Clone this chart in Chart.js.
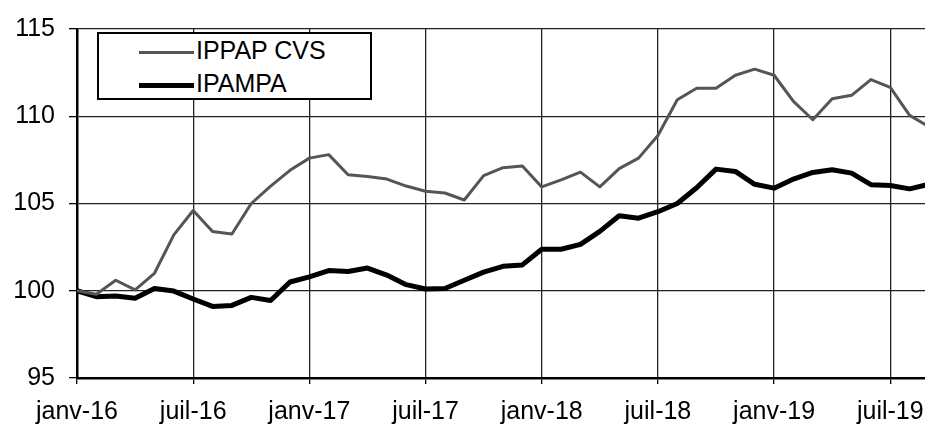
<!DOCTYPE html>
<html lang="fr">
<head>
<meta charset="utf-8">
<title>IPPAP CVS et IPAMPA</title>
<script src="https://cdn.jsdelivr.net/npm/chart.js@4/dist/chart.umd.min.js"></script>
<style>
    html, body { margin: 0; padding: 0; background: #fff; overflow: hidden; }
    #wrap { position: relative; width: 930px; height: 426px; }
    #legend {
        position: absolute; left: 97px; top: 32px; width: 271px; height: 64px;
        border: 2px solid #000; background: #fff;
        font-family: "Liberation Sans", Arial, sans-serif; font-size: 25px; color: #000;
    }
    #legend .row { position: absolute; left: 40px; height: 30px; line-height: 30px; white-space: nowrap; }
    #legend .swatch { display: inline-block; width: 55px; vertical-align: middle; margin-right: 2px; }
</style>
</head>
<body>
<div id="wrap">
    <canvas id="chart"></canvas>
    <div id="legend"></div>
</div>
<script>
const MONTHS = ['janv', 'févr', 'mars', 'avr', 'mai', 'juin', 'juil', 'août', 'sept', 'oct', 'nov', 'déc'];
const labels = [];
for (let y = 16; y <= 19; y++) {
    MONTHS.forEach(m => labels.push(`${m}-${y}`));
}
labels.length = 45; // janv-16 .. sept-19

const ippapCvs = [
    100.0, 99.8, 100.6, 100.05, 101.0, 103.2, 104.6, 103.4, 103.25, 105.0, 106.0, 106.9,
    107.6, 107.8, 106.65, 106.55, 106.4, 106.0, 105.7, 105.6, 105.2, 106.6, 107.05, 107.15,
    105.95, 106.35, 106.8, 105.95, 107.0, 107.6, 108.9, 110.95, 111.6, 111.6, 112.35, 112.7,
    112.35, 110.85, 109.8, 111.0, 111.2, 112.1, 111.65, 110.05, 109.4
];
const ipampa = [
    100.0, 99.66, 99.7, 99.57, 100.13, 99.98, 99.53, 99.1, 99.16, 99.62, 99.44, 100.5,
    100.8, 101.16, 101.1, 101.3, 100.9, 100.35, 100.1, 100.13, 100.6, 101.07, 101.4, 101.48,
    102.38, 102.38, 102.66, 103.4, 104.3, 104.16, 104.53, 105.0, 105.9, 106.97, 106.84, 106.1,
    105.88, 106.4, 106.78, 106.93, 106.74, 106.08, 106.03, 105.84, 106.1
];
const yMin = 95, yMax = 115, yStep = 5;

const FONT = { family: '"Liberation Sans", Arial, sans-serif', size: 25 };
const GRID = '#222';

const datasets = [
    { label: 'IPPAP CVS', data: ippapCvs, borderColor: '#555', borderWidth: 3 },
    { label: 'IPAMPA', data: ipampa, borderColor: '#000', borderWidth: 5 }
].map(d => ({ ...d, pointRadius: 0, tension: 0, fill: false, borderJoinStyle: 'round' }));

const chart = new Chart(document.getElementById('chart'), {
    type: 'line',
    data: { labels: labels, datasets: datasets },
    options: {
        responsive: true,
        maintainAspectRatio: false,
        animation: false,
        layout: { padding: { top: 22, right: 1, left: 0, bottom: 0 } },
        plugins: { legend: { display: false }, tooltip: { enabled: false } },
        scales: {
            x: {
                type: 'category',
                offset: false,
                afterFit: s => { s.height = 48; s.paddingLeft = 0; s.paddingRight = 0; },
                border: { color: '#000', width: 2.5 },
                grid: {
                    color: c => (c.index % 6 === 0 ? GRID : 'rgba(0,0,0,0)'),
                    tickColor: c => (c.index % 6 === 0 ? '#000' : 'rgba(0,0,0,0)'),
                    lineWidth: 1.3,
                    tickLength: 6
                },
                ticks: {
                    autoSkip: false,
                    maxRotation: 0,
                    color: '#000',
                    font: FONT,
                    padding: 13,
                    callback: (v, i) => (i % 6 === 0 ? labels[i] : '')
                }
            },
            y: {
                min: yMin,
                max: yMax,
                afterFit: s => { s.width = 77; },
                border: { color: '#000', width: 2.5 },
                grid: { color: GRID, tickColor: '#000', lineWidth: 1.3, tickLength: 8 },
                ticks: { stepSize: yStep, color: '#000', font: FONT, padding: 14 }
            }
        }
    }
});

// legend box drawn over the plot, built from the datasets
const legendEl = document.getElementById('legend');
datasets.forEach((d, i) => {
    const row = document.createElement('div');
    row.className = 'row';
    row.style.top = (i * 33 + 1) + 'px';
    const sw = document.createElement('span');
    sw.className = 'swatch';
    sw.style.borderTop = `${d.borderWidth}px solid ${d.borderColor}`;
    row.appendChild(sw);
    row.appendChild(document.createTextNode(d.label));
    legendEl.appendChild(row);
});
</script>
</body>
</html>
